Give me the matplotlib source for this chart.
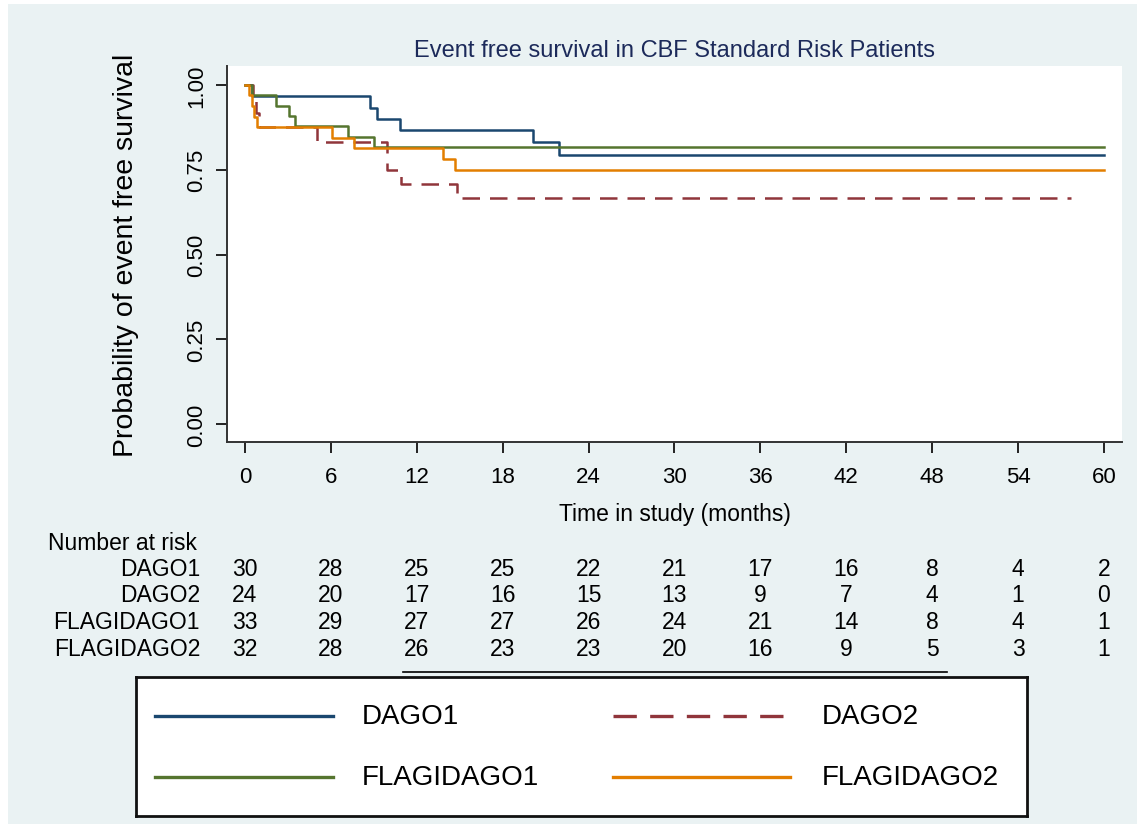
import matplotlib
matplotlib.use("Agg")
import matplotlib.pyplot as plt
from matplotlib.patches import Rectangle
from matplotlib.lines import Line2D
from matplotlib.transforms import blended_transform_factory

plt.rcParams['font.family'] = ['Liberation Sans', 'DejaVu Sans']

# Kaplan-Meier step estimates (time in months, survival probability)
dago1_t = [0, 0.5, 8.7, 9.2, 10.8, 20.1, 21.9, 60]
dago1_s = [1.0, 0.967, 0.933, 0.900, 0.867, 0.831, 0.794, 0.794]

dago2_t = [0, 0.55, 0.75, 1.0, 5.0, 9.9, 10.9, 14.8, 57.7]
dago2_s = [1.0, 0.958, 0.917, 0.875, 0.833, 0.750, 0.708, 0.667, 0.667]

flag1_t = [0, 0.5, 2.2, 3.1, 3.5, 7.2, 9.0, 60]
flag1_s = [1.0, 0.970, 0.939, 0.909, 0.879, 0.848, 0.818, 0.818]

flag2_t = [0, 0.3, 0.5, 0.65, 0.85, 6.1, 7.6, 13.8, 14.7, 60]
flag2_s = [1.0, 0.969, 0.938, 0.906, 0.875, 0.844, 0.813, 0.782, 0.750, 0.750]

groups = ["DAGO1", "DAGO2", "FLAGIDAGO1", "FLAGIDAGO2"]
colors = ["#1A476F", "#90353B", "#55752F", "#E37E00"]
styles = ["-", (0, (7, 4)), "-", "-"]

risk_times = [0, 6, 12, 18, 24, 30, 36, 42, 48, 54, 60]
risk_dago1 = [30, 28, 25, 25, 22, 21, 17, 16, 8, 4, 2]
risk_dago2 = [24, 20, 17, 16, 15, 13, 9, 7, 4, 1, 0]
risk_flag1 = [33, 29, 27, 27, 26, 24, 21, 14, 8, 4, 1]
risk_flag2 = [32, 28, 26, 23, 23, 20, 16, 9, 5, 3, 1]

y_ticks = [0, 0.25, 0.5, 0.75, 1.0]

W, H = 1140, 829
fig = plt.figure(figsize=(W / 100, H / 100), dpi=100, facecolor="white")

def fx(px):
    return px / W

def fy(py):
    return 1 - py / H

# light Stata-style backdrop
fig.patches.append(Rectangle((fx(8), fy(825)), fx(1137) - fx(8), fy(5) - fy(825),
                             transform=fig.transFigure, facecolor="#EAF2F3",
                             edgecolor="none", zorder=-10))

ax = fig.add_axes([fx(227), fy(443), fx(1122) - fx(227), fy(67) - fy(443)])
ax.set_facecolor("white")

curves = [(dago1_t, dago1_s), (dago2_t, dago2_s), (flag1_t, flag1_s), (flag2_t, flag2_s)]
for (t, s), name, c, ls in zip(curves, groups, colors, styles):
    ax.step(t, s, where="post", color=c, linestyle=ls, lw=1.8, label=name)

ax.set_xlim(-1.257, 61.26)
ax.set_ylim(-0.053, 1.056)
ax.set_xticks(risk_times)
ax.set_yticks(y_ticks)
ax.set_yticklabels([f"{v:.2f}" for v in y_ticks], rotation=90, va="center")
ax.tick_params(axis="both", length=8, width=1.4, color="#222222", labelsize=16)
ax.tick_params(axis="x", pad=9)
ax.tick_params(axis="y", pad=6)
for side in ["top", "right"]:
    ax.spines[side].set_visible(False)
for side in ["left", "bottom"]:
    ax.spines[side].set_linewidth(1.4)
    ax.spines[side].set_color("#333333")

ax.set_title("Event free survival in CBF Standard Risk Patients", fontsize=17,
             color="#1C2A5A", pad=7)
ax.set_xlabel("Time in study (months)", fontsize=16.5, labelpad=11)
ax.set_ylabel("Probability of event free survival", fontsize=20.5, labelpad=34)

# number-at-risk table under the axis
tr = blended_transform_factory(ax.transData, fig.transFigure)
fig.text(fx(48), fy(543), "Number at risk", fontsize=16.5, va="center", ha="left")
rows = [risk_dago1, risk_dago2, risk_flag1, risk_flag2]
row_y = [570, 596, 623, 650]
for name, counts, py in zip(groups, rows, row_y):
    fig.text(fx(200), fy(py), name, fontsize=16.5, va="center", ha="right")
    for t, n in zip(risk_times, counts):
        ax.text(t, fy(py), str(n), transform=tr, fontsize=16.5,
                va="center", ha="center", clip_on=False)

fig.add_artist(Line2D([fx(403), fx(947)], [fy(673), fy(673)],
                      transform=fig.transFigure, color="black", lw=1.2))

# legend box drawn in pixel coordinates
lax = fig.add_axes([fx(136), fy(817), fx(1027) - fx(136), fy(678) - fy(817)])
lax.set_xlim(136, 1027)
lax.set_ylim(817, 678)
lax.set_xticks([])
lax.set_yticks([])
lax.set_facecolor("white")
for sp in lax.spines.values():
    sp.set_linewidth(2)
    sp.set_color("#111111")

leg_pos = [(155, 333, 362, 717), (613, 790, 822, 717),
           (155, 333, 362, 778), (613, 790, 822, 778)]
for name, c, ls, (x0, x1, xt, py) in zip(groups, colors, styles, leg_pos):
    lax.plot([x0, x1], [py, py], color=c, linestyle=ls, lw=2.4)
    lax.text(xt, py, name, fontsize=20, va="center", ha="left")

fig.savefig("out.png", dpi=100, facecolor="white")
